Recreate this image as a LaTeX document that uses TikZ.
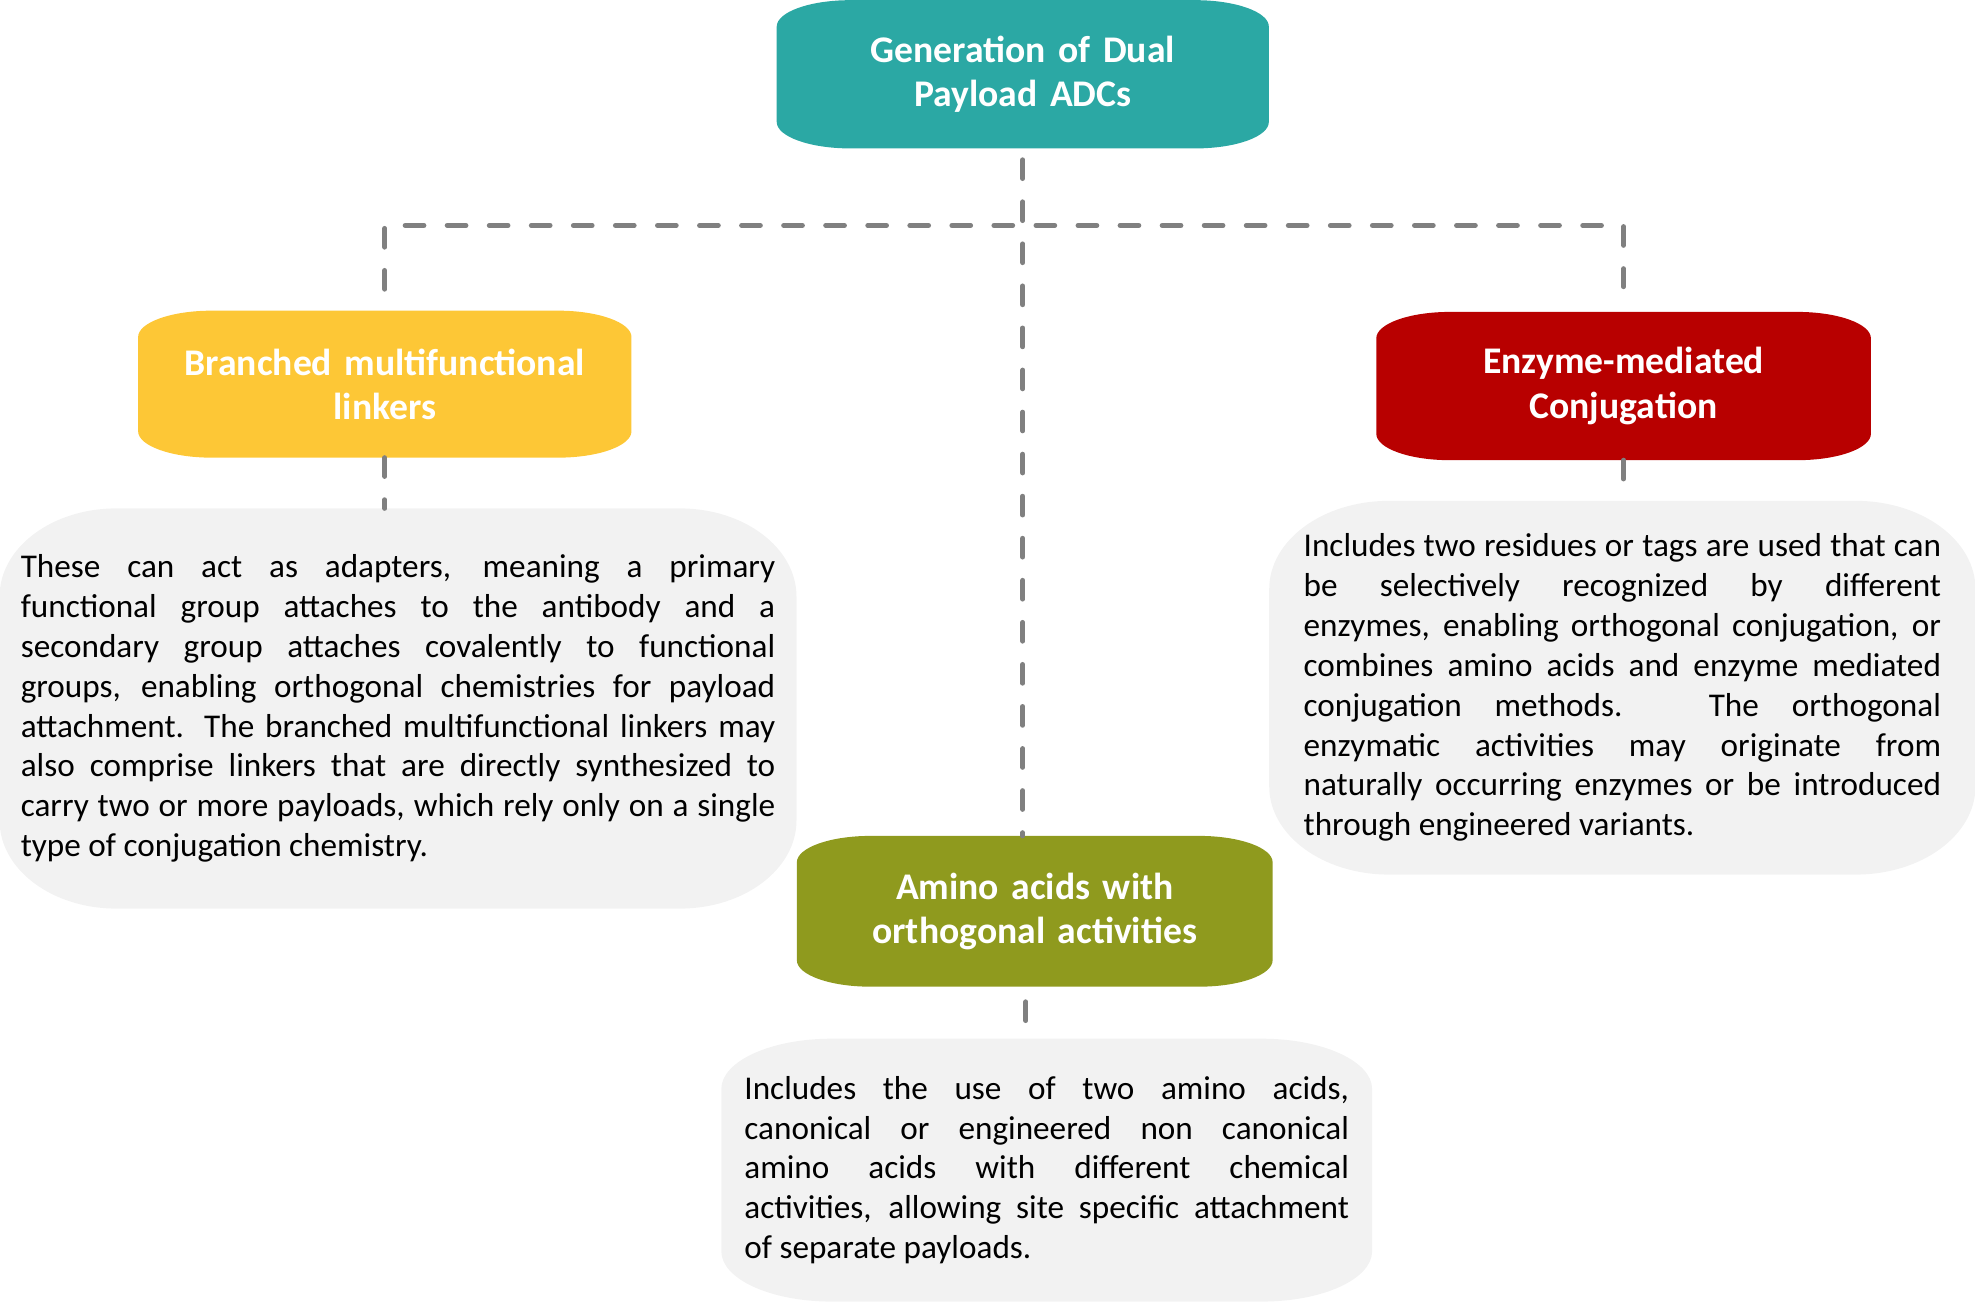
\documentclass[tikz,border=0pt]{standalone}
\usepackage{fontspec}
\setmainfont{Carlito}
\usetikzlibrary{backgrounds}

\definecolor{tealc}{RGB}{43,168,164}
\definecolor{yellowc}{RGB}{253,199,54}
\definecolor{redc}{RGB}{184,0,0}
\definecolor{olivec}{RGB}{143,154,30}
\definecolor{paperc}{RGB}{242,242,242}
\definecolor{linkc}{RGB}{128,128,128}

% body text of the grey boxes
\newcommand{\descfont}{\fontsize{15pt}{18pt}\selectfont
  \hyphenpenalty=10000\relax \tolerance=9999\relax
  \spaceskip=\fontdimen2\font plus 2\fontdimen3\font minus 0.12em\relax}

% filled box with elliptical corners behind a named node
\newcommand{\softbox}[4]{%
  \fill[#2] ([xshift=#3]#1.north west) -- ([xshift=-#3]#1.north east)
    arc[start angle=90, end angle=0, x radius=#3, y radius=#4]
    -- ([yshift=#4]#1.south east)
    arc[start angle=0, end angle=-90, x radius=#3, y radius=#4]
    -- ([xshift=#3]#1.south west)
    arc[start angle=270, end angle=180, x radius=#3, y radius=#4]
    -- ([yshift=-#4]#1.north west)
    arc[start angle=180, end angle=90, x radius=#3, y radius=#4] -- cycle;}

\tikzset{
  headbox/.style={inner sep=0pt, text=white, align=center,
    font=\fontsize{17pt}{20pt}\selectfont\bfseries,
    text width=7.2cm, minimum width=7.8cm, minimum height=2.34cm},
  descbox/.style={inner sep=0pt, align=justify, font=\descfont},
  link/.style={draw=linkc, line width=2.2pt, line cap=round,
    dash pattern=on 8.5pt off 10.5pt},
}

\begin{document}
\begin{tikzpicture}
    \useasboundingbox (0,0) rectangle (31.36,20.7);
    \node[headbox] (top) at (16.24,19.52) {Generation of Dual\\Payload ADCs};
    \node[headbox, minimum width=7.82cm, minimum height=2.32cm] (branched) at (6.11,14.6) {Branched multifunctional\\linkers};
    \node[headbox, minimum width=7.84cm] (enzyme) at (25.78,14.57) {Enzyme-mediated\\Conjugation};
    \node[headbox, minimum width=7.54cm, minimum height=2.38cm] (amino) at (16.43,6.23) {Amino acids with\\orthogonal activities};
    \node[descbox, text width=11.98cm, minimum width=12.64cm, minimum height=6.34cm] (leftdesc) at (6.32,9.45) {These can act as adapters, meaning a primary\linebreak
      functional group attaches to the antibody and a\linebreak
      secondary group attaches covalently to functional\linebreak
      groups, enabling orthogonal chemistries for payload\linebreak
      attachment. The branched multifunctional linkers may\linebreak
      also comprise linkers that are directly synthesized to\linebreak
      carry two or more payloads, which rely only on a single\linebreak
      type of conjugation chemistry.};
    \node[descbox, text width=10.12cm, minimum width=11.2cm, minimum height=5.92cm] (rightdesc) at (25.76,9.78) {Includes two residues or tags are used that can\linebreak
      be selectively recognized by different\linebreak
      enzymes, enabling orthogonal conjugation, or\linebreak
      combines amino acids and enzyme mediated\linebreak
      conjugation methods. The orthogonal\linebreak
      enzymatic activities may originate from\linebreak
      naturally occurring enzymes or be introduced\linebreak
      through engineered variants.};
    \node[descbox, text width=9.6cm, minimum width=10.32cm, minimum height=4.16cm] (bottomdesc) at (16.62,2.12) {Includes the use of two amino acids,\linebreak
      canonical or engineered non canonical\linebreak
      amino acids with different chemical\linebreak
      activities, allowing site specific attachment\linebreak
      of separate payloads.};
    \coordinate (bus) at (16.24,17.12);
    \begin{scope}[on background layer]
      \softbox{top}{tealc}{1.17cm}{0.42cm}
      \softbox{branched}{yellowc}{1.17cm}{0.42cm}
      \softbox{enzyme}{redc}{1.17cm}{0.42cm}
      \softbox{amino}{olivec}{1.17cm}{0.42cm}
      \softbox{leftdesc}{paperc}{1.85cm}{1.4cm}
      \softbox{rightdesc}{paperc}{1.9cm}{1.4cm}
      \softbox{bottomdesc}{paperc}{1.75cm}{0.8cm}
    \end{scope}
    \draw[link, shorten <=0.18cm] (top.south) -- (top.south |- amino.north);
    \draw[link, shorten <=0.34cm, shorten >=0.4cm] (branched.north) |- (bus) -| (enzyme.north);
    \draw[link] (branched.south) -- (branched.south |- leftdesc.north);
    \draw[link] (enzyme.south) -- (enzyme.south |- rightdesc.north);
    \draw[link, shorten <=0.24cm] ([xshift=-0.14cm]amino.south) -- ([xshift=-0.14cm]amino.south |- bottomdesc.north);
  \end{tikzpicture}
\end{document}
